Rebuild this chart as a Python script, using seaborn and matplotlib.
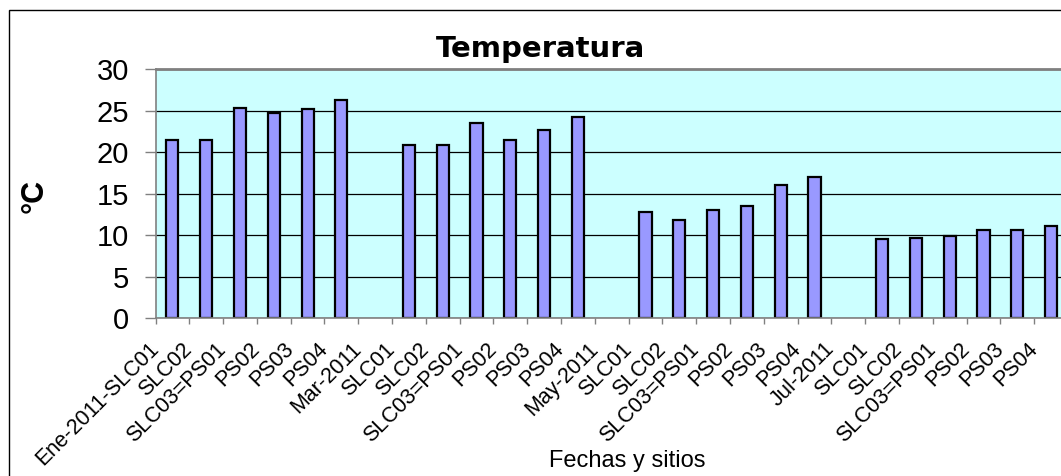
import numpy as np
import pandas as pd
import seaborn as sns
import matplotlib.pyplot as plt
from matplotlib.patches import Rectangle
from matplotlib.transforms import ScaledTranslation

# Sampling dates and sites (date rows carry no measurement)
sites = ["Ene-2011-SLC01", "SLC02", "SLC03=PS01", "PS02", "PS03", "PS04",
         "Mar-2011", "SLC01", "SLC02", "SLC03=PS01", "PS02", "PS03", "PS04",
         "May-2011", "SLC01", "SLC02", "SLC03=PS01", "PS02", "PS03", "PS04",
         "Jul-2011", "SLC01", "SLC02", "SLC03=PS01", "PS02", "PS03", "PS04"]
temperature = [21.4, 21.4, 25.3, 24.7, 25.2, 26.3,
               np.nan, 20.9, 20.9, 23.5, 21.4, 22.6, 24.2,
               np.nan, 12.8, 11.8, 13.0, 13.5, 16.0, 17.0,
               np.nan, 9.5, 9.7, 9.9, 10.6, 10.6, 11.1]
y_ticks = [0, 5, 10, 15, 20, 25, 30]

sns.set_theme(style="white")
plt.rcParams["font.family"] = ["Liberation Sans", "DejaVu Sans"]
plt.rcParams["text.color"] = "black"
plt.rcParams["xtick.color"] = "black"
plt.rcParams["ytick.color"] = "black"
plt.rcParams["xtick.labelcolor"] = "black"
plt.rcParams["ytick.labelcolor"] = "black"

W, H = 1061, 476
fig = plt.figure(figsize=(W / 100, H / 100), dpi=100)
fig.patch.set_facecolor("white")

# chart-area frame (left and top edges fall inside the canvas)
fig.patches.append(Rectangle((9 / W, -0.1), 1.2, 1 - 10 / H + 0.1,
                             transform=fig.transFigure, fill=False,
                             edgecolor="black", linewidth=1.0))

left, right, top, bottom = 155.5, 1068.0, 69.0, 318.3
ax = fig.add_axes([left / W, 1 - bottom / H, (right - left) / W, (bottom - top) / H])
ax.set_facecolor("#CCFFFF")

keys = [str(i) for i in range(len(sites))]
df = pd.DataFrame({"key": keys, "temp": temperature})
sns.barplot(data=df, x="key", y="temp", order=keys, ax=ax,
            color="#9999FF", saturation=1, width=0.36,
            edgecolor="black", linewidth=1.6)

ax.set_xlim(-0.5, len(sites) - 0.5)
ax.set_ylim(0, 30)
ax.set_yticks(y_ticks)
ax.set_yticklabels([str(v) for v in y_ticks])
ax.yaxis.grid(True, color="black", linewidth=0.9)
ax.set_axisbelow(True)

ax.set_xticks(np.arange(len(sites)) - 0.5)
ax.set_xticklabels(sites, rotation=45, ha="right", va="center",
                   rotation_mode="anchor", fontsize=15.5)
shift = ScaledTranslation(-4 / 100, 0, fig.dpi_scale_trans)
for lab in ax.get_xticklabels():
    lab.set_transform(lab.get_transform() + shift)
ax.set_xlabel("")
ax.set_ylabel("")

for side in ["left", "bottom", "right", "top"]:
    ax.spines[side].set_visible(True)
    ax.spines[side].set_color("#808080")
ax.spines["top"].set_linewidth(2.0)
ax.spines["left"].set_linewidth(1.2)
ax.spines["bottom"].set_linewidth(1.2)

ax.tick_params(axis="y", which="major", left=True, length=8, width=1.0,
               color="#808080", pad=11, labelsize=21)
ax.tick_params(axis="x", which="major", bottom=True, length=4, width=1.0,
               color="#808080", pad=16)

fig.text(541 / W, 1 - 57 / H, "Temperatura", ha="center", va="baseline",
         fontsize=21, fontweight="bold", family="DejaVu Sans")
fig.text(35 / W, 1 - 196 / H, "°C", ha="center", va="center", rotation=90,
         fontsize=22, fontweight="bold")
fig.text(627 / W, 1 - 467 / H, "Fechas y sitios", ha="center", va="baseline",
         fontsize=17)

fig.savefig("out.png", dpi=100)
